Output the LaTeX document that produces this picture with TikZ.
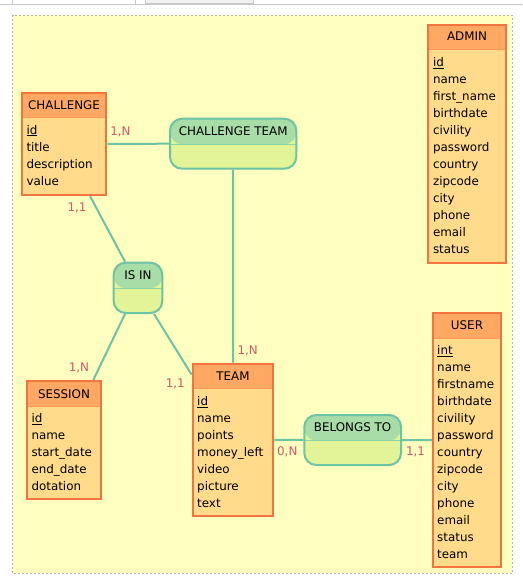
\documentclass[tikz,border=0pt]{standalone}
\usepackage{fontspec}
\setmainfont{DejaVu Sans}
\definecolor{entborder}{HTML}{F4733F}
\definecolor{enthead}{HTML}{FFA864}
\definecolor{entbody}{HTML}{FFDB8B}
\definecolor{entdiv}{HTML}{FF9A58}
\definecolor{relborder}{HTML}{6CC4A4}
\definecolor{relhead}{HTML}{A8DDA8}
\definecolor{relbody}{HTML}{E3F398}
\definecolor{reldiv}{HTML}{8ED4AA}
\definecolor{connc}{HTML}{6CC4A4}
\definecolor{lblred}{HTML}{D4566C}
\definecolor{bgyellow}{HTML}{FFFFC0}
\definecolor{bgdash}{HTML}{B8B8A0}
\definecolor{chrome}{HTML}{C8C8C8}
\definecolor{tabfill}{HTML}{F2F2F2}
\newcommand{\dfont}{\fontsize{11.9}{14}\selectfont}
\pgfdeclarelayer{back}
\pgfdeclarelayer{edges}
\pgfsetlayers{back,edges,main}
\begin{document}
\begin{tikzpicture}[x=1pt,y=-1pt,
  ent/.style={draw=entborder, line width=2pt, fill=entbody, inner sep=0pt,
    anchor=north west,
    path picture={\fill[enthead] (path picture bounding box.north west) rectangle ([yshift=-25pt]path picture bounding box.north east);
      \draw[entdiv, line width=1pt] ([yshift=-25pt]path picture bounding box.north west) -- ([yshift=-25pt]path picture bounding box.north east);}},
  rel/.style={draw=relborder, line width=2pt, fill=relbody, inner sep=0pt,
    anchor=north west, rounded corners=12pt,
    path picture={\fill[relhead] (path picture bounding box.north west) rectangle ([yshift=-25.5pt]path picture bounding box.north east);
      \draw[reldiv, line width=1pt] ([yshift=-25.5pt]path picture bounding box.north west) -- ([yshift=-25.5pt]path picture bounding box.north east);}},
  txt/.style={font=\dfont, inner sep=0pt, text height=9pt, text depth=2.5pt, text=black},
  attr/.style={txt, anchor=west},
  card/.style={font=\dfont, inner sep=0pt, text height=9pt, text depth=2.5pt, text=lblred},
  conn/.style={draw=connc, line width=2pt}
]
\useasboundingbox (0,0) rectangle (522,583);
\begin{pgfonlayer}{back}
  % browser chrome
  \draw[chrome, line width=0.8pt] (0,4.3) -- (522,4.3);
  \draw[chrome, line width=0.8pt] (12.4,0) -- (12.4,4.3);
  \draw[chrome, line width=0.8pt] (135.4,0) -- (135.4,4.3);
  \filldraw[fill=tabfill, draw=chrome, line width=0.8pt] (145.7,-2) rectangle (253.4,3.6);
  % canvas
  \fill[bgyellow] (12.5,15) rectangle (512.4,573.3);
  \draw[bgdash, line width=0.9pt, dash pattern=on 2pt off 2pt] (12.5,15) rectangle (512.4,573.3);
\end{pgfonlayer}

% entities
\node[ent, minimum width=84.5pt, minimum height=102.3pt] (challenge) at (20.8,91.8) {};
\node[ent, minimum width=74pt, minimum height=117.7pt] (session) at (26,380) {};
\node[ent, minimum width=80.6pt, minimum height=152.3pt] (team) at (191.7,362.7) {};
\node[ent, minimum width=68pt, minimum height=253.7pt] (user) at (432,312.3) {};
\node[ent, minimum width=77.4pt, minimum height=238.3pt] (admin) at (427.3,24) {};

% relations
\node[rel, minimum width=126.3pt, minimum height=50pt] (ct) at (169,117.7) {};
\node[rel, minimum width=48.6pt, minimum height=50.3pt] (isin) at (112.7,261.7) {};
\node[rel, minimum width=96.7pt, minimum height=50pt] (bt) at (303.3,414) {};

% titles
\node[txt] (challenge-t) at ([yshift=-14pt]challenge.north) {CHALLENGE};
\node[txt] (session-t) at ([yshift=-15pt]session.north) {SESSION};
\node[txt] (team-t) at ([yshift=-15pt]team.north) {TEAM};
\node[txt] (user-t) at ([yshift=-13.7pt]user.north) {USER};
\node[txt] (admin-t) at ([yshift=-13.7pt]admin.north) {ADMIN};
\node[txt] (ct-t) at ([yshift=-15pt]ct.north) {CHALLENGE TEAM};
\node[txt] (isin-t) at ([yshift=-14.3pt]isin.north) {IS IN};
\node[txt] (bt-t) at ([yshift=-14.3pt]bt.north) {BELONGS TO};

% attributes
\foreach \a [count=\i] in {{\underline{id}},title,description,value}
  \node[attr] (challenge-a\i) at ([xshift=5.5pt,yshift={-(39+17*(\i-1))*1pt}]challenge.north west) {\a};
\foreach \a [count=\i] in {{\underline{id}},name,start\_date,end\_date,dotation}
  \node[attr] (session-a\i) at ([xshift=5.3pt,yshift={-(39+17*(\i-1))*1pt}]session.north west) {\a};
\foreach \a [count=\i] in {{\underline{id}},name,points,money\_left,video,picture,text}
  \node[attr] (team-a\i) at ([xshift=5.3pt,yshift={-(39.5+17*(\i-1))*1pt}]team.north west) {\a};
\foreach \a [count=\i] in {{\underline{int}},name,firstname,birthdate,civility,password,country,zipcode,city,phone,email,status,team}
  \node[attr] (user-a\i) at ([xshift=5pt,yshift={-(39+17*(\i-1))*1pt}]user.north west) {\a};
\foreach \a [count=\i] in {{\underline{id}},name,first\_name,birthdate,civility,password,country,zipcode,city,phone,email,status}
  \node[attr] (admin-a\i) at ([xshift=5.5pt,yshift={-(39+17*(\i-1))*1pt}]admin.north west) {\a};

% connectors
\begin{pgfonlayer}{edges}
  \draw[conn] (challenge.east) -- (ct.west);
  \draw[conn] (ct.south) -- (team.north);
  \draw[conn] ([xshift=26pt]challenge.south) -- ([xshift=-13pt]isin.north);
  \draw[conn] ([xshift=-13pt]isin.south) -- ([xshift=29.3pt]session.north);
  \draw[conn] ([xshift=16pt]isin.south) -- ([yshift=-12pt]team.north west);
  \draw[conn] (team.east) -- (bt.west);
  \draw[conn] (bt.east) -- (user.west);
\end{pgfonlayer}

% cardinalities
\node[card] (c1) at (120.5,132) {1,N};
\node[card] (c2) at (77,208) {1,1};
\node[card] (c3) at (79,368.5) {1,N};
\node[card] (c4) at (175.3,384.3) {1,1};
\node[card] (c5) at (247.7,351.5) {1,N};
\node[card] (c6) at (287.3,452.5) {0,N};
\node[card] (c7) at (415.5,452.5) {1,1};
\end{tikzpicture}
\end{document}
